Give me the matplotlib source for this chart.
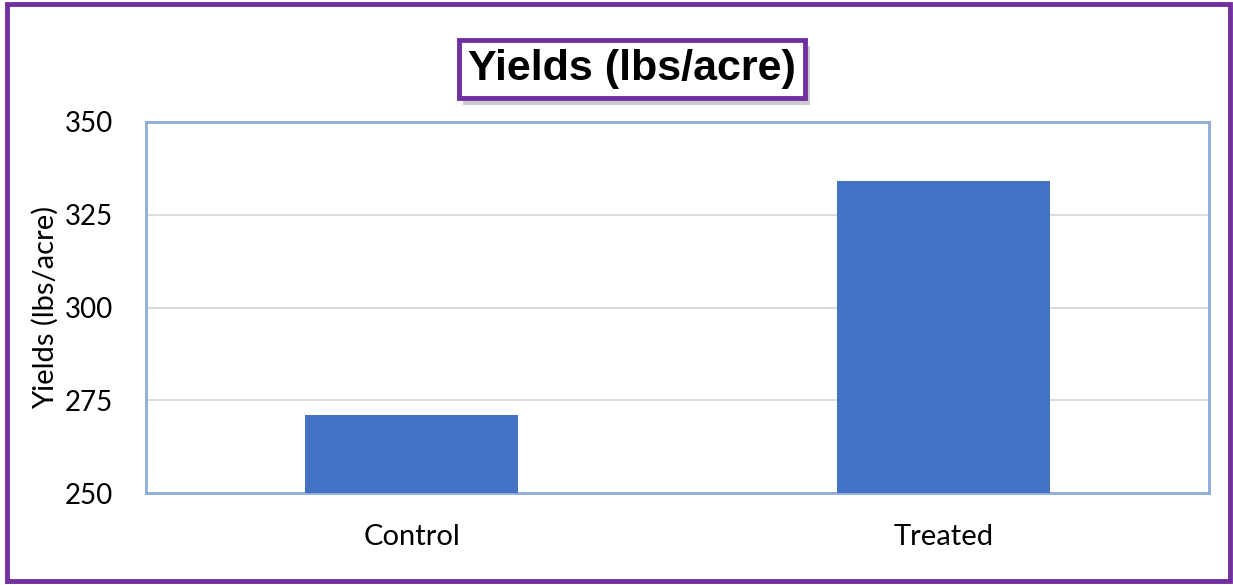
import matplotlib
matplotlib.use("Agg")
import matplotlib.pyplot as plt
import matplotlib.patheffects as pe
from matplotlib.patches import Rectangle

# Datos del grafico
categorias = ["Control", "Treated"]
rendimientos = [271, 334]
ticks_y = [250, 275, 300, 325, 350]

azul_barra = "#4472C4"
azul_borde = "#8FAADC"
morado = "#7030A0"

fig = plt.figure(figsize=(12.33, 5.85), dpi=100)
ax = fig.add_axes([146 / 1233, 1 - 493 / 585, (1209 - 146) / 1233, (493 - 122) / 585])

ax.bar(categorias, rendimientos, width=0.4, color=azul_barra, zorder=3)
ax.set_xlim(-0.5, 1.5)
ax.set_ylim(250, 350)
ax.set_yticks(ticks_y)
ax.grid(axis="y", color="#D9D9D9", linewidth=1.3, zorder=0)
ax.tick_params(axis="both", length=0)
ax.tick_params(axis="y", pad=24, labelsize=20)
ax.tick_params(axis="x", pad=22, labelsize=21)
for lbl in ax.get_xticklabels() + ax.get_yticklabels():
    lbl.set_fontfamily("Lato")
for s in ax.spines.values():
    s.set_color(azul_borde)
    s.set_linewidth(2)
ax.set_ylabel("Yields (lbs/acre)", fontsize=21, family="Lato", labelpad=4)

# Titulo en recuadro morado con sombra
titulo = fig.text(632 / 1233, 1 - 69 / 585, "Yields (lbs/acre)", ha="center", va="center",
                  fontsize=31, fontweight="bold", family="Liberation Sans",
                  bbox=dict(boxstyle="square,pad=0.22", facecolor="white",
                            edgecolor=morado, linewidth=3.5))
titulo.get_bbox_patch().set_path_effects(
    [pe.withSimplePatchShadow(offset=(3, -5), shadow_rgbFace="gray", alpha=0.4)])

# Marco exterior
fig.patches.append(Rectangle((7 / 1233, 4 / 585), 1223 / 1233, 577 / 585,
                             transform=fig.transFigure, fill=False,
                             edgecolor=morado, linewidth=3.5))

fig.savefig("out.png", dpi=100)
